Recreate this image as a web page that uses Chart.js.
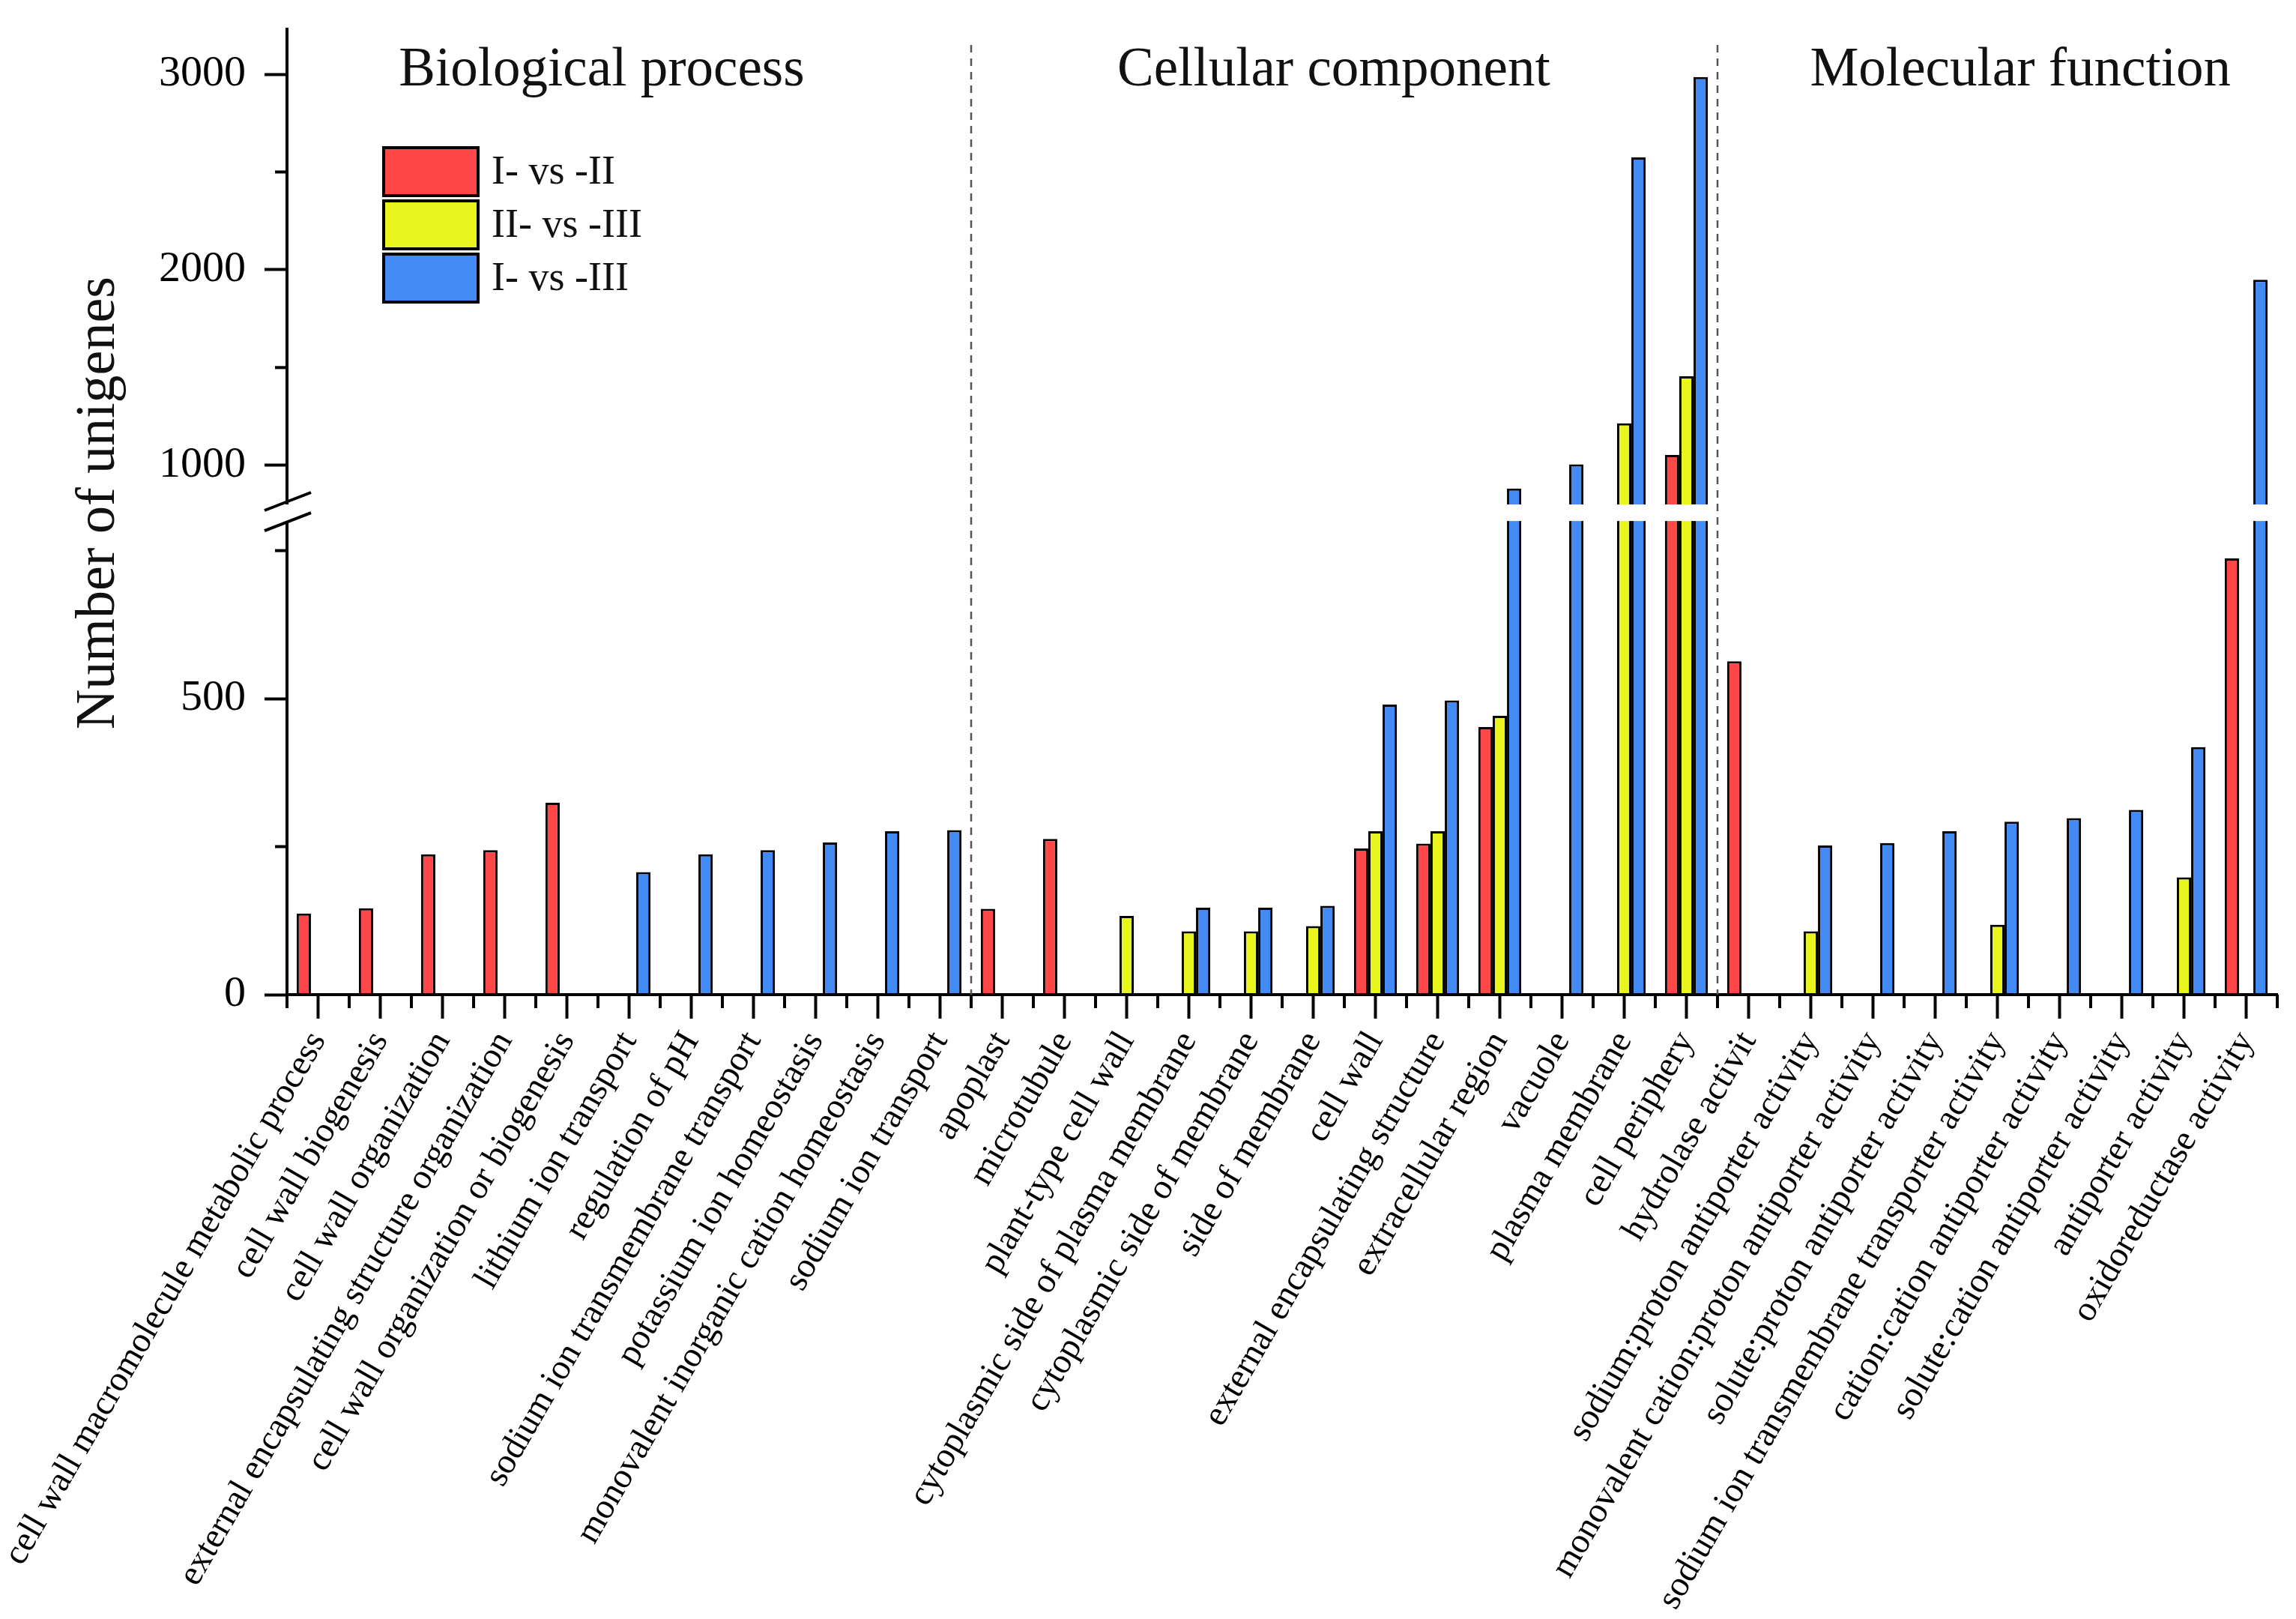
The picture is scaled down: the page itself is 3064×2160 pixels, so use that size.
<!DOCTYPE html>
<html>
<head>
<meta charset="utf-8">
<title>GO enrichment – number of unigenes</title>
<script src="https://cdn.jsdelivr.net/npm/chart.js@4.4.0/dist/chart.umd.min.js"></script>
<style>
  html, body { margin: 0; padding: 0; background: #fff; }
  #wrap { position: relative; width: 3064px; height: 2160px; }
</style>
</head>
<body>
<div id="wrap"><canvas id="chart"></canvas></div>
<script>
// ---- data ----
var categories = [
  'cell wall macromolecule metabolic process', 'cell wall biogenesis', 'cell wall organization',
  'external encapsulating structure organization', 'cell wall organization or biogenesis',
  'lithium ion transport', 'regulation of pH', 'sodium ion transmembrane transport',
  'potassium ion homeostasis', 'monovalent inorganic cation homeostasis', 'sodium ion transport',
  'apoplast', 'microtubule', 'plant-type cell wall', 'cytoplasmic side of plasma membrane',
  'cytoplasmic side of membrane', 'side of membrane', 'cell wall', 'external encapsulating structure',
  'extracellular region', 'vacuole', 'plasma membrane', 'cell periphery',
  'hydrolase activit', 'sodium:proton antiporter activity', 'monovalent cation:proton antiporter activity',
  'solute:proton antiporter activity', 'sodium ion transmembrane transporter activity',
  'cation:cation antiporter activity', 'solute:cation antiporter activity', 'antiporter activity',
  'oxidoreductase activity'
];
var groupNames = ['Biological process', 'Cellular component', 'Molecular function'];
var groupSizes = [11, 12, 9];
var seriesNames = ['I- vs -II', 'II- vs -III', 'I- vs -III'];

var vs12 = [137, 146, 237, 244, 324, null, null, null, null, null, null,
            145, 263, null, null, null, null, 247, 255, 452, null, null, 1053,
            563, null, null, null, null, null, null, null, 737];
var vs23 = [null, null, null, null, null, null, null, null, null, null, null,
            null, null, 133, 107, 107, 116, 276, 276, 471, null, 1215, 1455,
            null, 107, null, null, 118, null, null, 198, null];
var vs13 = [null, null, null, null, null, 207, 237, 244, 257, 276, 278,
            null, null, null, 147, 147, 150, 490, 497, 881, 1005, 2575, 2986,
            null, 252, 256, 276, 292, 298, 312, 418, 1949];

var lowerTicks = [0, 500];
var upperTicks = [1000, 2000, 3000];
var lowerMinor = [250, 750];
var upperMinor = [1500, 2500];
var breakAt = 800;     // axis is broken here
var upperMax = 3230;

// ---- look ----
var colors = ['#FF4747', '#E9F51E', '#438AF4'];
var serif = "'Liberation Serif', 'Times New Roman', serif";
var lowMax = breakAt + 28;   // lower panel runs a little past the break, hidden by the gap

function lowPart(arr) {
  return arr.map(function (v) { return v == null ? null : Math.min(v, lowMax); });
}
function highPart(arr) {
  return arr.map(function (v) { return v != null && v > breakAt ? v : null; });
}

var series = [vs12, vs23, vs13];
var datasets = [];
series.forEach(function (arr, i) {
  datasets.push({
    label: seriesNames[i], data: lowPart(arr), yAxisID: 'yLo', stack: 's' + i,
    backgroundColor: colors[i], borderColor: '#000', borderWidth: 3
  });
});
series.forEach(function (arr, i) {
  datasets.push({
    label: seriesNames[i], data: highPart(arr), yAxisID: 'yHi', stack: 's' + i, base: breakAt,
    backgroundColor: colors[i], borderColor: '#000', borderWidth: 3
  });
});

var decorations = {
  id: 'decorations',
  afterDraw: function (chart) {
    var ctx = chart.ctx, area = chart.chartArea;
    var xs = chart.scales.x, lo = chart.scales.yLo, hi = chart.scales.yHi;
    ctx.save();

    // gap of the broken axis
    var gapTop = hi.bottom, gapBottom = lo.getPixelForValue(breakAt);
    ctx.fillStyle = '#fff';
    ctx.fillRect(area.left - 5, gapTop, area.right - area.left + 5, gapBottom - gapTop);

    ctx.strokeStyle = '#000';
    ctx.lineWidth = 4;
    [gapTop - 4, gapBottom + 1].forEach(function (y) {
      ctx.beginPath();
      ctx.moveTo(area.left - 30, y + 12);
      ctx.lineTo(area.left + 32, y - 12);
      ctx.stroke();
    });

    // minor y ticks
    function minor(scale, vals) {
      vals.forEach(function (v) {
        var y = scale.getPixelForValue(v);
        ctx.beginPath();
        ctx.moveTo(area.left, y);
        ctx.lineTo(area.left - 16, y);
        ctx.stroke();
      });
    }
    minor(lo, lowerMinor);
    minor(hi, upperMinor);

    // short x ticks between categories
    for (var i = 0; i <= categories.length; i++) {
      var px = xs.getPixelForValue(i - 0.5);
      ctx.beginPath();
      ctx.moveTo(px, area.bottom);
      ctx.lineTo(px, area.bottom + 18);
      ctx.stroke();
    }

    // dashed separators between GO groups
    ctx.strokeStyle = '#555';
    ctx.lineWidth = 2.5;
    ctx.setLineDash([10, 8]);
    var edge = 0;
    for (var g = 0; g < groupSizes.length - 1; g++) {
      edge += groupSizes[g];
      var sx = xs.getPixelForValue(edge - 0.5);
      ctx.beginPath();
      ctx.moveTo(sx, 60);
      ctx.lineTo(sx, area.bottom);
      ctx.stroke();
    }
    ctx.setLineDash([]);

    // group titles
    var titleAt = [4.56, 16.33, 27.37];
    ctx.fillStyle = '#111';
    ctx.font = '73px ' + serif;
    ctx.textAlign = 'center';
    ctx.textBaseline = 'alphabetic';
    groupNames.forEach(function (name, k) {
      ctx.fillText(name, xs.getPixelForValue(titleAt[k]), 114);
    });

    // y axis title
    ctx.save();
    ctx.translate(133, 671);
    ctx.rotate(-Math.PI / 2);
    ctx.font = '74px ' + serif;
    ctx.textBaseline = 'middle';
    ctx.fillText('Number of unigenes', 0, 0);
    ctx.restore();

    // legend
    ctx.font = '54px ' + serif;
    ctx.textAlign = 'left';
    ctx.textBaseline = 'middle';
    seriesNames.forEach(function (name, k) {
      var by = 197 + k * 71;
      ctx.fillStyle = colors[k];
      ctx.fillRect(512, by, 126, 64);
      ctx.strokeStyle = '#000';
      ctx.lineWidth = 4;
      ctx.strokeRect(512, by, 126, 64);
      ctx.fillStyle = '#111';
      ctx.fillText(name, 656, by + 34);
    });

    ctx.restore();
  }
};

var yTickFont = { family: serif, size: 58 };

new Chart(document.getElementById('chart'), {
  type: 'bar',
  data: { labels: categories, datasets: datasets },
  options: {
    responsive: true,
    maintainAspectRatio: false,
    devicePixelRatio: 1,
    animation: false,
    categoryPercentage: 0.69,
    barPercentage: 1.0,
    layout: { padding: { top: 39, right: 25, left: 0, bottom: 0 } },
    plugins: { legend: { display: false }, tooltip: { enabled: false } },
    scales: {
      x: {
        type: 'category',
        offset: true,
        grid: { offset: false, drawOnChartArea: false, tickLength: 32, tickWidth: 4, tickColor: '#000' },
        border: { display: true, color: '#000', width: 4, z: 1 },
        ticks: {
          autoSkip: false, minRotation: 60, maxRotation: 60, padding: 8,
          color: '#000', font: { family: serif, size: 47 }
        },
        afterFit: function (s) { s.height = 833; s.paddingLeft = 0; s.paddingRight = 0; }
      },
      yLo: {
        type: 'linear', position: 'left', stack: 'y', stackWeight: 654, weight: 0,
        min: 0, max: lowMax, stacked: false,
        afterBuildTicks: function (s) { s.ticks = lowerTicks.map(function (v) { return { value: v }; }); },
        grid: { drawOnChartArea: false, tickLength: 30, tickWidth: 4, tickColor: '#000' },
        border: { display: true, color: '#000', width: 4 },
        ticks: { padding: 25, color: '#000', font: yTickFont, callback: function (v) { return String(v); } },
        afterFit: function (s) { s.width = 383; s.paddingTop = 0; s.paddingBottom = 0; }
      },
      yHi: {
        type: 'linear', position: 'left', stack: 'y', stackWeight: 634, weight: 1,
        min: breakAt, max: upperMax, stacked: false, beginAtZero: false,
        afterBuildTicks: function (s) { s.ticks = upperTicks.map(function (v) { return { value: v }; }); },
        grid: { drawOnChartArea: false, tickLength: 30, tickWidth: 4, tickColor: '#000' },
        border: { display: true, color: '#000', width: 4 },
        ticks: { padding: 25, color: '#000', font: yTickFont, callback: function (v) { return String(v); } },
        afterFit: function (s) { s.width = 383; s.paddingTop = 0; s.paddingBottom = 0; }
      }
    }
  },
  plugins: [decorations]
});
</script>
</body>
</html>
